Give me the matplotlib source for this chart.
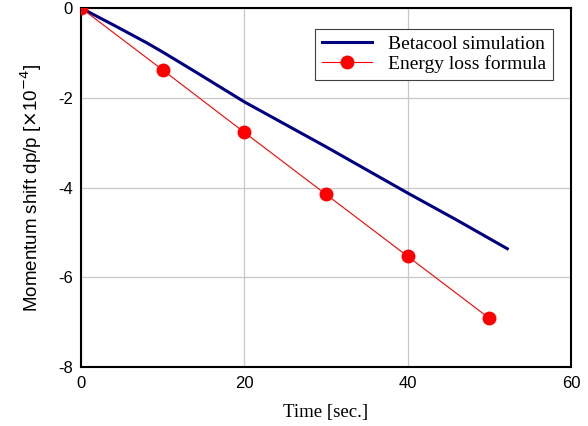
import matplotlib.pyplot as plt

plt.rcParams['axes.unicode_minus'] = False

# Betacool simulation curve
sim_t = [0, 4, 8, 10, 14, 20, 30, 40, 46, 52.2]
sim_dp = [0, -0.38, -0.77, -0.98, -1.42, -2.09, -3.09, -4.12, -4.72, -5.36]

# Energy loss formula points
formula_t = [0, 10, 20, 30, 40, 50]
formula_dp = [0, -1.38, -2.77, -4.15, -5.53, -6.91]

fig = plt.figure(figsize=(5.88, 4.26), dpi=100)
ax = fig.add_axes([0.138, 0.138, 0.833, 0.843])

ax.plot(sim_t, sim_dp, color='#000080', lw=2.2, label='Betacool simulation', zorder=3)
ax.plot(formula_t, formula_dp, color='#ff0000', lw=0.8, marker='o', ms=9,
        markerfacecolor='#ff0000', markeredgecolor='#ff0000',
        label='Energy loss formula', zorder=4)

ax.set_xlim(0, 60)
ax.set_ylim(-8, 0)
ax.set_xticks([0, 20, 40, 60])
ax.set_yticks([-8, -6, -4, -2, 0])
ax.tick_params(length=0, labelsize=12, pad=6)
for lab in ax.get_xticklabels() + ax.get_yticklabels():
    lab.set_family('Liberation Sans')
ax.grid(True, color='#c8c8c8', lw=0.9)
ax.set_axisbelow(True)
for sp in ax.spines.values():
    sp.set_linewidth(1.5)
    sp.set_color('black')

ax.set_xlabel('Time [sec.]', family='Liberation Serif', fontsize=13.5, labelpad=10)
ax.set_ylabel(r'Momentum shift dp/p [$\times$10$^{-4}$]', family='Liberation Sans',
              fontsize=13.5, labelpad=10)

leg = ax.legend(loc='upper right', bbox_to_anchor=(0.983, 0.97),
                prop={'family': 'Liberation Serif', 'size': 14},
                fancybox=False, edgecolor='#404040', framealpha=1,
                borderpad=0.35, handlelength=2.6, labelspacing=0.1)
leg.get_frame().set_linewidth(0.8)

plt.savefig('out.png', dpi=100)
